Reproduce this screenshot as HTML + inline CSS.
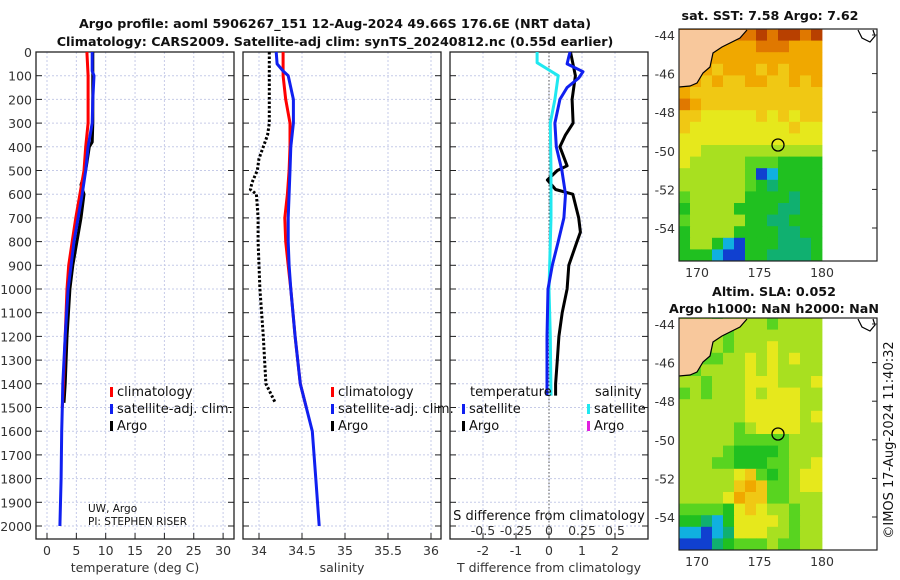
<!DOCTYPE html>
<html><head><meta charset="utf-8"><style>
body{margin:0;background:#fff;}
svg{display:block;font-family:"DejaVu Sans","Liberation Sans",sans-serif;}
.tk{font-size:12.5px;fill:#333;}
.ttl{font-size:12.7px;font-weight:bold;fill:#111;}
.lg{font-size:13px;fill:#111;}
</style></head><body>
<svg id="fig" width="900" height="580" viewBox="0 0 900 580" xmlns="http://www.w3.org/2000/svg">
<text class="ttl" x="335" y="28" text-anchor="middle">Argo profile: aoml 5906267_151 12-Aug-2024 49.66S 176.6E (NRT data)</text>
<text class="ttl" x="335" y="46" text-anchor="middle">Climatology: CARS2009. Satellite-adj clim: synTS_20240812.nc (0.55d earlier)</text>
<g id="g1"></g>
<g id="g2"></g>
<g id="g3"></g>
<g id="m1"></g>
<g id="m2"></g>
<text class="lg" x="0" y="0" transform="translate(893,440) rotate(-90)" text-anchor="middle">©IMOS 17-Aug-2024 11:40:32</text>
</svg>
<script>
const NS="http://www.w3.org/2000/svg";
// ---- data ----
const depthTicks=[0,100,200,300,400,500,600,700,800,900,1000,1100,1200,1300,1400,1500,1600,1700,1800,1900,2000];
const tTicks=[0,5,10,15,20,25,30];
const sTicks=[34,34.5,35,35.5,36];
const dTTicks=[-2,-1,0,1,2];
const dSTickLabels=["-0.5","-0.25","0","0.25","0.5"];
const dSTicks=[-0.5,-0.25,0,0.25,0.5];
const tClimDepth=[0,100,200,300,400,500,600,700,800,900,1000,1200,1400,1500];
const tClimVal=[6.8,7.0,7.0,7.0,6.6,6.3,5.6,4.9,4.3,3.7,3.4,3.1,2.8,2.6];
const tSatDepth=[0,80,100,200,300,400,500,600,700,800,900,1000,1200,1400,1500,1600,1800,2000];
const tSatVal=[7.7,7.7,8.0,7.8,7.7,7.0,6.6,6.0,5.3,4.6,4.1,3.6,3.1,2.7,2.6,2.5,2.4,2.2];
const tArgoDepth=[0,100,200,300,380,400,500,560,600,700,800,900,1000,1200,1400,1480];
const tArgoVal=[7.8,7.8,7.8,7.8,7.7,7.2,6.6,5.8,6.3,5.8,5.1,4.4,3.9,3.4,3.1,2.9];
const sClimDepth=[0,100,200,300,400,500,600,700,800,900,1000,1200,1400,1500];
const sClimVal=[34.28,34.28,34.31,34.36,34.36,34.35,34.33,34.30,34.31,34.34,34.37,34.42,34.48,34.55];
const sSatDepth=[0,50,80,100,200,300,400,500,600,700,800,900,1000,1200,1400,1500,1600,1800,2000];
const sSatVal=[34.2,34.21,34.28,34.34,34.40,34.40,34.37,34.36,34.35,34.34,34.34,34.35,34.37,34.42,34.48,34.55,34.62,34.66,34.70];
const sArgoDepth=[0,300,350,400,450,500,550,580,600,700,800,900,1000,1200,1400,1480];
const sArgoVal=[34.12,34.12,34.10,34.05,34.0,33.98,33.92,33.9,33.97,33.99,33.99,34.0,34.01,34.05,34.08,34.19];
const dSDepth=[0,45,76,100,200,300,500,700,1000,1200,1450];
const dSVal=[-0.09,-0.09,0.0,0.07,0.045,0.01,0.015,0.015,0.0,0.01,0.015];
const dTSatDepth=[0,20,50,83,110,150,200,300,400,500,600,700,800,900,1000,1200,1450];
const dTSatVal=[0.64,0.6,0.55,1.03,0.9,0.55,0.33,0.18,0.22,0.39,0.5,0.45,0.28,0.1,-0.03,-0.06,-0.06];
const dTArgoDepth=[0,100,200,300,350,400,480,500,540,580,600,700,760,800,900,1000,1100,1200,1300,1400,1450];
const dTArgoVal=[0.65,0.8,0.7,0.73,0.5,0.33,0.55,0.25,-0.05,0.2,0.72,0.9,0.95,0.85,0.6,0.55,0.4,0.3,0.25,0.2,0.2];
const latTicks=[-44,-46,-48,-50,-52,-54];
const lonTicks=[170,175,180];
const sstRows=["9999999a9aa9a","9998888999888","9888888888888","8887888787888","8878778877878","8777777777777","9877777777777","7766666767677","7666666666766","6666666666666","6655555555555","6555554443333","5555554013333","5555554323333","4555553333233","3555533332233","4555553322333","3555533332233","3553103332223","3331003322223"];
const slaRows=["5554555545555","4555455555555","5545455565555","5544556565655","4455556565555","5545556665556","4545556566655","5555556666655","5555556666656","5555545666655","5555544444555","5555433334555","5554433344556","5555567434566","5555578744566","5555687744555","4444367655455","3321366665455","1101266655455","0002344454455"];
const palette={"0":"#1040d0","1":"#10b0e0","2":"#10b070","3":"#20c020","4":"#58d420","5":"#a8e020","6":"#e6e81c","7":"#f0c814","8":"#f0a800","9":"#e07800","a":"#b84000"};
// ---- helpers ----
const top0=52, pxPerM=0.237, bot=539;
const yD=d=>top0+d*pxPerM;
function el(tag,attrs,parent,txt){const e=document.createElementNS(NS,tag);for(const k in attrs)e.setAttribute(k,attrs[k]);if(txt!==undefined)e.textContent=txt;parent.appendChild(e);return e;}
function panel(g,x0,x1,xs,ticks,tickFmt,showDepthLabels,xlabel){
  for(const d of depthTicks){const y=yD(d);
    el('line',{x1:x0,x2:x1,y1:y,y2:y,stroke:'#c6cbe8','stroke-width':1,'stroke-dasharray':'2,2'},g);
    el('line',{x1:x0,x2:x0+6,y1:y,y2:y,stroke:'#222'},g);el('line',{x1:x1-6,x2:x1,y1:y,y2:y,stroke:'#222'},g);
    if(showDepthLabels){const t=el('text',{x:x0-4,y:y+5,class:'tk','text-anchor':'end'},g,String(d));
      
      }
  }
  for(const v of ticks){const x=xs(v);
    el('line',{x1:x,x2:x,y1:top0,y2:bot,stroke:'#c6cbe8','stroke-width':1,'stroke-dasharray':'2,2'},g);
    el('line',{x1:x,x2:x,y1:bot-6,y2:bot,stroke:'#222'},g);
    const t=el('text',{x:x,y:555,class:'tk','text-anchor':'middle'},g,tickFmt(v));
    
    
  }
  el('rect',{x:x0,y:top0,width:x1-x0,height:bot-top0,fill:'none',stroke:'#222','stroke-width':1.3},g);
  const xl=el('text',{x:(x0+x1)/2,y:572,class:'tk','text-anchor':'middle'},g,xlabel);
  
  
}
function line(g,depths,vals,xs,color,w,name,dash){
  const d=depths.map((dd,i)=>(i?'L':'M')+xs(vals[i]).toFixed(1)+','+yD(dd).toFixed(1)).join('');
  const p=el('path',{d:d,fill:'none',stroke:color,'stroke-width':w,'stroke-linejoin':'round'},g);
  if(dash)p.setAttribute('stroke-dasharray',dash);
  
  
}
function legend(g,x,y,color,label,name){
  const r=el('rect',{x:x,y:y-9,width:3,height:10,fill:color},g);
  const t=el('text',{x:x+7,y:y,class:'lg'},g,label);
  
  
}
// ---- panel 1 ----
const g1=document.getElementById('g1');
const xT=v=>47+v*5.87;
panel(g1,36,234,xT,tTicks,v=>String(v),true,'temperature (deg C)');
line(g1,tArgoDepth,tArgoVal,xT,'#000',3,'argo-temperature-line');
line(g1,tClimDepth,tClimVal,xT,'#f00',3,'climatology-temperature-line');
line(g1,tSatDepth,tSatVal,xT,'#1020f0',3,'satellite-temperature-line');
legend(g1,110,396,'#f00','climatology','legend-climatology');
legend(g1,110,413,'#1020f0','satellite-adj. clim.','legend-satellite');
legend(g1,110,430,'#000','Argo','legend-argo');
el('text',{x:88,y:512,style:'font-size:10.5px',fill:'#111'},g1,'UW, Argo');
el('text',{x:88,y:525,style:'font-size:10.5px',fill:'#111'},g1,'PI: STEPHEN RISER');
// ---- panel 2 ----
const g2=document.getElementById('g2');
const xS=v=>259+(v-34)*86;
panel(g2,243,441,xS,sTicks,v=>String(v),false,'salinity');
line(g2,sArgoDepth,sArgoVal,xS,'#000',3,'argo-salinity-line','2.5,2');
line(g2,sClimDepth,sClimVal,xS,'#f00',3,'climatology-salinity-line');
line(g2,sSatDepth,sSatVal,xS,'#1020f0',3,'satellite-salinity-line');
legend(g2,331,396,'#f00','climatology','legend-climatology-s');
legend(g2,331,413,'#1020f0','satellite-adj. clim.','legend-satellite-s');
legend(g2,331,430,'#000','Argo','legend-argo-s');
// ---- panel 3 ----
const g3=document.getElementById('g3');
const xDT=v=>549+v*33, xDS=v=>549+v*132;
panel(g3,450,648,xDT,dTTicks,v=>String(v),false,'T difference from climatology');
el('line',{x1:549,x2:549,y1:top0,y2:bot,stroke:'#555','stroke-dasharray':'1.5,2'},g3);
el('text',{x:549,y:520,class:'lg','text-anchor':'middle'},g3,'S difference from climatology');
dSTicks.forEach((v,i)=>{const t=el('text',{x:xDS(v),y:535,class:'tk','text-anchor':'middle'},g3,dSTickLabels[i]);
  
  });
line(g3,dTArgoDepth,dTArgoVal,xDT,'#000',3,'argo-tdiff-line');
line(g3,dSDepth,dSVal,xDS,'#20e8f0',3,'satellite-sdiff-line');
line(g3,dTSatDepth,dTSatVal,xDT,'#1020f0',3,'satellite-tdiff-line');
el('text',{x:470,y:396,class:'lg'},g3,'temperature');
el('text',{x:595,y:396,class:'lg'},g3,'salinity');
legend(g3,462,413,'#1020f0','satellite','legend-t-satellite');
legend(g3,462,430,'#000','Argo','legend-t-argo');
legend(g3,587,413,'#20e8f0','satellite','legend-s-satellite');
legend(g3,587,430,'#e020e0','Argo','legend-s-argo');
// ---- maps ----
function map(id,ytop,rows,title1,title2){
  const g=document.getElementById(id);
  const x0=679,x1=877,xd=822,yb=ytop+232;
  const lonX=v=>697+(v-170)*12.5, latY=v=>ytop+6+(-44-v)*19.3;
  const cw=(xd-x0)/13,ch=232/rows.length;
  rows.forEach((r,i)=>{for(let j=0;j<r.length;j++){
    const c=el('rect',{x:(x0+j*cw).toFixed(1),y:(ytop+i*ch).toFixed(1),width:(cw+0.4).toFixed(1),height:(ch+0.4).toFixed(1),fill:palette[r[j]]},g);
    
    }});
  const dy=ytop-29;
  const land=[[679,30],[747,30],[740,38],[722,47],[713,53],[710,67],[703,73],[697,83],[690,86],[679,87]];
  el('polygon',{points:land.map(p=>p[0]+','+(p[1]+dy)).join(' '),fill:'#f8c89c',stroke:'none'},g);
  el('polyline',{points:land.slice(1,-1).map(p=>p[0]+','+(p[1]+dy)).join(' ')+' '+(679)+','+(87+dy),fill:'none',stroke:'#000','stroke-width':1.2},g);
  el('polyline',{points:`858,${30+dy} 862,${38+dy} 870,${42+dy} 875,${36+dy} 873,${30+dy}`,fill:'none',stroke:'#000','stroke-width':1.2},g);
  el('circle',{cx:778,cy:ytop+116,r:6,fill:'none',stroke:'#000','stroke-width':1.3},g);
  el('rect',{x:x0,y:ytop,width:x1-x0,height:232,fill:'none',stroke:'#222','stroke-width':1.2},g);
  for(const v of latTicks){const y=latY(v);
    el('line',{x1:x1-5,x2:x1,y1:y,y2:y,stroke:'#222'},g);
    const t=el('text',{x:675,y:y+5,class:'tk','text-anchor':'end'},g,String(v));
    
    }
  for(const v of lonTicks){const x=lonX(v);
    const t=el('text',{x:x,y:yb+16,class:'tk','text-anchor':'middle'},g,String(v));
    
    }
  if(title2){el('text',{x:774,y:ytop-22,class:'ttl','text-anchor':'middle'},g,title1);
    el('text',{x:774,y:ytop-5,class:'ttl','text-anchor':'middle'},g,title2);}
  else el('text',{x:770,y:ytop-9,class:'ttl','text-anchor':'middle'},g,title1);
}
map('m1',29,sstRows,'sat. SST: 7.58 Argo: 7.62');
map('m2',318,slaRows,'Altim. SLA: 0.052','Argo h1000: NaN h2000: NaN');
</script>
</body></html>
